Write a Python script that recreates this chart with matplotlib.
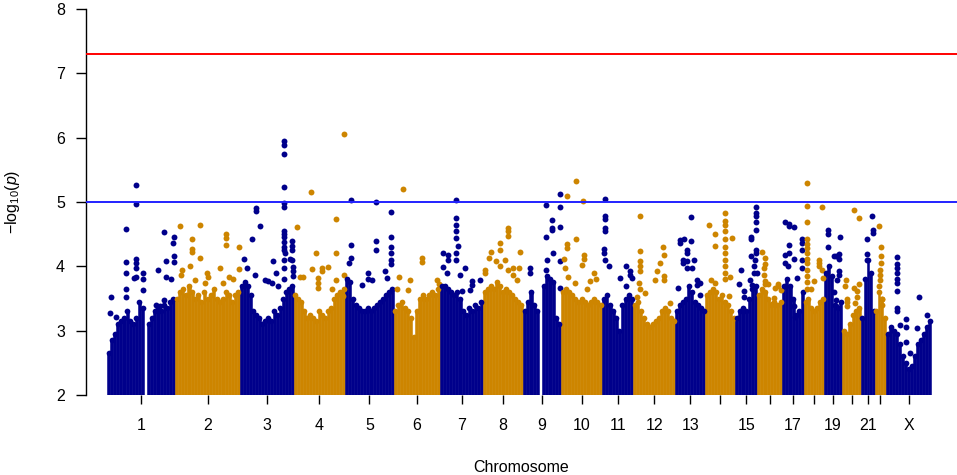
import matplotlib
matplotlib.use("Agg")
import matplotlib.pyplot as plt

plt.rcParams['font.family'] = ['Liberation Sans', 'DejaVu Sans']
plt.rcParams['mathtext.fontset'] = 'custom'
plt.rcParams['mathtext.rm'] = 'Liberation Sans'
plt.rcParams['mathtext.it'] = 'Liberation Sans:italic'

# ---- data ----
chromosomes = ['1', '2', '3', '4', '5', '6', '7', '8', '9', '10', '11', '12',
               '13', '14', '15', '16', '17', '18', '19', '20', '21', '22', 'X']
tick_labels = ['1', '2', '3', '4', '5', '6', '7', '8', '9', '10', '11', '12',
               '13', '', '15', '', '17', '', '19', '', '21', '', 'X']
# plotted span of each chromosome (Mb)
chr_length = [245, 234, 194, 184, 176, 166, 155, 144, 137, 148, 112, 151,
              108, 108, 79, 90, 79, 72, 65, 68, 50, 40, 162]

# upper edge of the dense cloud of SNPs, left to right, per chromosome (-log10 p)
body_heights = [
    [2.65, 2.85, 2.95, 3.1, 3.15, 3.2, 3.3, 3.15, 3.1, 3.2, 3.45, 3.35, 2.0, 3.1, 3.2, 3.3, 3.35, 3.3, 3.4, 3.35, 3.45, 3.5],
    [3.5, 3.6, 3.65, 3.55, 3.7, 3.6, 3.5, 3.55, 3.45, 3.6, 3.5, 3.55, 3.65, 3.5, 3.45, 3.5, 3.6, 3.55, 3.45, 3.55, 3.6],
    [3.7, 3.75, 3.7, 3.55, 3.3, 3.25, 3.2, 3.1, 3.15, 3.2, 3.15, 3.3, 3.25, 3.35, 3.5, 3.6, 3.65, 3.7],
    [3.55, 3.5, 3.45, 3.3, 3.2, 3.25, 3.2, 3.15, 3.3, 3.25, 3.2, 3.3, 3.35, 3.5, 3.55, 3.6, 3.65],
    [3.8, 3.75, 3.5, 3.4, 3.35, 3.3, 3.3, 3.35, 3.3, 3.35, 3.4, 3.45, 3.5, 3.55, 3.6, 3.65],
    [3.3, 3.4, 3.45, 3.35, 3.3, 3.2, 2.9, 3.3, 3.5, 3.55, 3.5, 3.55, 3.6, 3.55, 3.65],
    [3.7, 3.7, 3.65, 3.6, 3.55, 3.6, 3.5, 3.3, 3.25, 3.35, 3.3, 3.4, 3.35, 3.45],
    [3.6, 3.65, 3.7, 3.65, 3.75, 3.7, 3.6, 3.65, 3.6, 3.55, 3.5, 3.45, 3.4],
    [3.3, 3.45, 3.6, 3.4, 3.3, 2.0, 3.7, 3.85, 3.8, 3.75, 3.2, 3.1],
    [3.6, 3.65, 3.6, 3.55, 3.5, 3.45, 3.5, 3.45, 3.4, 3.45, 3.5, 3.45, 3.4],
    [3.5, 3.55, 3.4, 3.3, 3.2, 3.0, 3.4, 3.5, 3.55, 3.5],
    [3.4, 3.45, 3.3, 3.2, 3.1, 3.05, 3.1, 3.15, 3.2, 3.3, 3.35, 3.3, 3.2, 3.15],
    [3.3, 3.4, 3.45, 3.5, 3.7, 3.6, 3.45, 3.4, 3.35, 3.3],
    [3.55, 3.6, 3.65, 3.6, 3.5, 3.55, 3.45, 3.4, 3.3, 3.2],
    [3.2, 3.3, 3.35, 3.3, 3.5, 3.65, 3.7],
    [3.55, 3.65, 3.6, 3.5, 3.4, 3.45, 3.4, 3.45],
    [3.7, 3.8, 3.7, 3.5, 3.25, 3.3, 3.6],
    [3.45, 3.5, 3.35, 3.3, 3.35, 3.45, 3.5],
    [3.9, 4.0, 3.85, 3.4, 3.35, 3.45],
    [3.0, 2.95, 3.1, 3.25, 3.3, 3.35],
    [3.2, 3.8, 4.1, 3.9, 3.3],
    [3.3, 3.6, 3.5, 3.2],
    [2.95, 3.05, 3.0, 2.95, 2.8, 2.6, 2.5, 2.4, 2.45, 2.6, 2.8, 2.85, 2.95, 3.05, 3.15],
]

# individual SNPs standing above the cloud: (position in chromosome, Mb ; -log10 p)
peaks = [
    [(104, 5.27), (104, 4.97), (67, 4.58), (67, 4.07), (67, 3.9), (67, 3.65), (67, 3.53), (104, 4.11),
     (104, 4.05), (104, 3.97), (104, 3.84), (97, 3.82), (128, 3.9), (128, 3.8), (128, 3.63), (14, 3.53),
     (12, 3.28), (34, 3.22), (185, 3.95), (206, 4.53), (211, 4.09), (211, 3.84), (239, 4.36), (241, 4.46),
     (241, 4.16), (241, 4.06), (230, 3.8), (205, 3.48), (176, 3.4), (191, 3.38)],
    [(18, 4.62), (61, 4.42), (61, 4.27), (61, 4.22), (90, 4.65), (90, 4.13), (184, 4.51), (184, 4.44),
     (184, 4.33), (230, 4.30), (55, 4.0), (163, 3.98), (230, 3.96), (210, 3.8), (26, 3.95), (22, 3.87),
     (120, 3.84), (108, 3.74), (72, 3.79), (173, 3.74), (196, 3.84), (114, 3.9)],
    [(160, 5.95), (160, 5.89), (160, 5.75), (160, 5.23), (160, 4.99), (160, 4.92), (160, 4.55), (160, 4.5),
     (160, 4.45), (160, 4.38), (160, 4.3), (158, 4.25), (162, 4.2), (160, 4.1), (160, 3.98), (160, 3.8),
     (186, 4.39), (186, 4.32), (186, 4.26), (186, 4.1), (56, 4.9), (56, 4.86), (72, 4.62), (42, 4.42),
     (13, 4.12), (25, 3.98), (54, 3.86), (119, 4.09), (130, 3.9), (90, 3.79), (102, 3.77), (114, 3.74),
     (138, 3.69), (191, 3.99), (191, 3.93), (180, 4.11), (191, 3.85)],
    [(61, 5.16), (10, 4.61), (151, 4.73), (81, 4.2), (152, 4.21), (64, 3.96), (100, 3.97), (100, 3.92),
     (124, 3.99), (88, 3.82), (88, 3.74), (88, 3.66), (22, 3.83), (31, 3.83), (179, 3.86), (150, 3.78),
     (136, 3.64), (178, 3.54), (182, 6.05)],
    [(23, 5.03), (113, 5.0), (164, 4.84), (23, 4.33), (23, 4.13), (16, 4.05), (113, 4.39), (113, 4.25),
     (164, 4.45), (166, 4.3), (166, 4.2), (166, 4.1), (166, 4.03), (60, 3.71), (84, 3.89), (84, 3.81),
     (96, 3.79), (144, 3.92), (150, 3.82)],
    [(32, 5.2), (100, 4.13), (100, 4.07), (18, 3.83), (58, 3.79), (154, 3.78), (13, 3.65), (52, 3.63),
     (162, 3.73)],
    [(59, 5.03), (59, 4.75), (59, 4.65), (59, 4.55), (59, 4.44), (66, 4.32), (59, 4.21), (59, 4.1),
     (12, 4.21), (30, 4.18), (30, 4.1), (90, 3.97), (12, 3.99), (24, 3.9), (72, 3.87), (114, 3.77),
     (114, 3.71), (144, 3.79), (78, 3.61), (108, 3.63)],
    [(89, 4.6), (89, 4.55), (89, 4.47), (61, 4.36), (61, 4.26), (29, 4.23), (22, 4.13), (133, 4.23),
     (7, 3.95), (7, 3.9), (47, 4.08), (61, 4.0), (79, 4.1), (89, 3.95), (109, 3.97), (109, 3.87),
     (121, 3.79), (130, 3.97)],
    [(84, 4.96), (133, 5.12), (133, 4.92), (105, 4.72), (103, 4.6), (103, 4.56), (84, 4.46), (133, 4.61),
     (107, 4.21), (85, 4.1), (84, 3.95), (133, 4.09), (133, 3.66), (25, 3.97), (25, 3.9)],
    [(53, 5.33), (21, 5.09), (80, 5.01), (53, 4.42), (21, 4.35), (21, 4.29), (83, 4.17), (83, 4.11),
     (76, 4.02), (11, 4.12), (14, 3.97), (26, 3.84), (119, 3.89), (104, 3.77), (126, 3.8), (92, 3.64),
     (50, 3.74)],
    [(11, 5.05), (11, 4.79), (11, 4.73), (11, 4.6), (11, 4.55), (5, 4.27), (5, 4.21), (11, 4.1),
     (23, 4.0), (65, 3.82), (86, 4.0), (101, 3.92), (101, 3.87), (86, 3.69), (108, 3.82)],
    [(23, 4.78), (23, 4.24), (23, 4.08), (23, 4.0), (23, 3.92), (21, 3.74), (106, 4.3), (112, 4.17),
     (97, 4.05), (85, 3.92), (112, 3.85), (112, 3.79), (79, 3.78), (25, 3.64), (43, 3.58), (13, 3.53),
     (133, 3.43)],
    [(56, 4.77), (18, 4.41), (18, 4.36), (32, 4.43), (56, 4.39), (42, 4.26), (42, 4.2), (28, 4.1),
     (28, 4.05), (42, 4.08), (42, 3.97), (60, 3.97), (68, 4.1), (78, 3.79), (78, 3.71), (90, 3.74),
     (11, 3.66), (90, 3.55)],
    [(70, 4.83), (70, 4.7), (70, 4.65), (70, 4.55), (70, 4.42), (70, 4.3), (70, 4.2), (70, 4.1),
     (70, 4.0), (70, 3.9), (70, 3.8), (14, 4.65), (36, 4.51), (36, 4.32), (95, 4.44), (90, 3.83),
     (84, 3.54), (22, 3.79), (36, 3.74)],
    [(76, 4.92), (76, 4.83), (76, 4.78), (76, 4.69), (76, 4.57), (76, 4.26), (76, 4.21), (58, 4.46),
     (58, 4.43), (72, 4.1), (58, 4.16), (66, 4.0), (66, 3.9), (22, 3.95), (14, 3.73), (30, 3.61),
     (30, 3.53), (79, 3.9), (54, 3.79), (60, 3.71)],
    [(19, 4.22), (28, 4.13), (28, 4.03), (23, 3.97), (23, 3.87), (29, 3.77), (29, 3.73), (39, 3.73),
     (75, 3.73), (75, 3.69), (65, 3.66), (62, 3.51), (53, 3.42), (86, 3.63)],
    [(11, 4.69), (26, 4.66), (26, 4.62), (43, 4.61), (71, 4.43), (71, 4.37), (26, 4.33), (26, 4.21),
     (11, 4.18), (11, 4.05), (44, 4.11), (21, 4.0), (71, 4.25), (71, 4.1), (71, 3.97), (53, 3.82),
     (41, 3.38), (47, 3.22)],
    [(12, 5.3), (12, 4.94), (12, 4.69), (12, 4.42), (12, 4.35), (12, 4.28), (12, 4.2), (12, 4.12),
     (12, 4.05), (12, 3.95), (12, 3.85), (12, 3.75), (12, 3.65), (64, 4.92), (55, 4.1), (55, 4.05),
     (55, 4.0), (64, 3.95), (67, 3.82), (37, 3.77), (25, 3.64)],
    [(13, 4.56), (13, 4.51), (13, 4.3), (57, 4.46), (34, 4.16), (43, 4.16), (55, 4.19), (55, 4.12),
     (34, 3.6), (55, 3.92), (55, 3.87), (48, 3.79), (43, 3.48), (43, 3.38)],
    [(41, 4.87), (59, 4.75), (14, 3.78), (11, 3.69), (43, 3.67), (61, 3.73), (53, 3.61), (53, 3.53),
     (17, 3.5), (17, 3.45), (17, 3.38), (47, 3.43)],
    [(40, 4.79), (42, 4.57), (42, 4.52), (22, 4.43), (22, 4.19), (22, 4.1)],
    [(14, 4.62), (21, 4.3), (21, 4.16), (21, 4.05), (18, 3.95), (18, 3.87), (18, 3.79), (16, 3.69),
     (24, 3.5), (24, 3.4)],
    [(38, 4.15), (38, 4.04), (38, 3.97), (38, 3.9), (38, 3.8), (38, 3.74), (38, 3.61), (38, 3.35),
     (38, 3.3), (120, 3.52), (72, 3.18), (72, 3.06), (50, 3.09), (72, 2.82), (86, 2.66), (113, 3.04),
     (149, 3.25)],
]

suggestive_line = 5.0
genomewide_line = 7.30
chr_colors = ['#00008B', '#CD8500']

# ---- figure ----
W, H = 957, 475
fig = plt.figure(figsize=(W / 100, H / 100), dpi=100)
ax_left, ax_right, ax_top, ax_bottom = 86, 957, 9, 395
ax = fig.add_axes([ax_left / W, 1 - ax_bottom / H, (ax_right - ax_left) / W, (ax_bottom - ax_top) / H])

starts = []
acc = 0
for L in chr_length:
    starts.append(acc)
    acc += L
total = acc

ticks = []
for i, name in enumerate(chromosomes):
    col = chr_colors[i % 2]
    s0 = starts[i]
    L = chr_length[i]
    hts = body_heights[i]
    n = len(hts)
    w = L / n
    xs = [s0 + (j + 0.5) * w for j in range(n)]
    ax.bar(xs, [h - 2 for h in hts], width=w, bottom=2, color=col,
           edgecolor=col, linewidth=0.4, zorder=2)
    tx = [x for x, h in zip(xs, hts) if h > 2.05]
    ty = [h for h in hts if h > 2.05]
    ax.scatter(tx, ty, s=17, color=col, linewidths=0, zorder=3)
    px = [s0 + p for p, v in peaks[i]]
    py = [v for p, v in peaks[i]]
    ax.scatter(px, py, s=18, color=col, linewidths=0, zorder=3)
    ticks.append(s0 + L / 2)

ax.axhline(genomewide_line, color='#FF0000', lw=1.4, zorder=4)
ax.axhline(suggestive_line, color='#2222FF', lw=1.4, zorder=4)

mb_per_px = 3.6
ax.set_xlim(-(107 - ax_left) * mb_per_px, total + (ax_right - 107 - 824) * mb_per_px)
ax.set_ylim(2, 8)

for sp in ['top', 'right', 'bottom']:
    ax.spines[sp].set_visible(False)
ax.spines['left'].set_linewidth(1.0)
ax.spines['left'].set_bounds(2, 8)

ax.set_yticks([2, 3, 4, 5, 6, 7, 8])
ax.set_yticklabels(['2', '3', '4', '5', '6', '7', '8'])
ax.set_xticks(ticks)
ax.set_xticklabels(tick_labels)
ax.tick_params(axis='y', length=7.2, width=1.0, pad=8, labelsize=11.5, direction='out')
ax.tick_params(axis='x', length=6.5, width=1.0, pad=10, labelsize=11.5, direction='out')

fig.text(13 / W, 1 - 202 / H, r'$-\mathrm{log}_{10}(\mathit{p})$', rotation=90,
         ha='center', va='center', fontsize=11.5)
fig.text(521 / W, 1 - 472 / H, 'Chromosome', ha='center', va='baseline', fontsize=11.5)

fig.savefig('out.png', dpi=100)
